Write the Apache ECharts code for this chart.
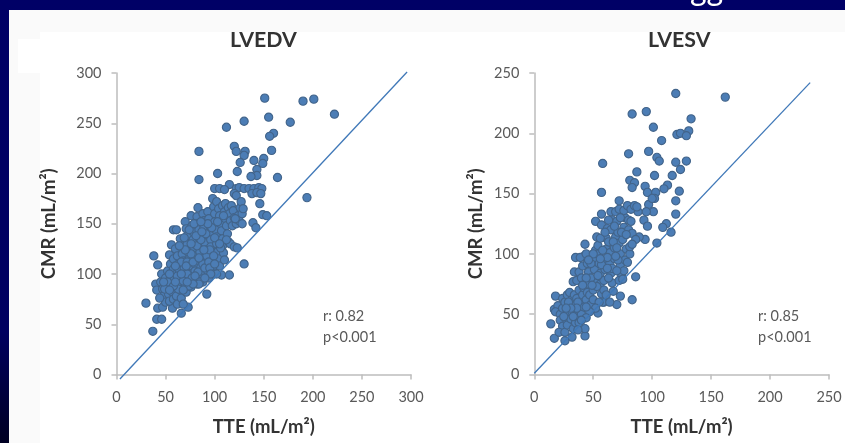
<!DOCTYPE html>
<html><head><meta charset="utf-8">
<style>html,body{margin:0;padding:0;background:#000066}#c{width:845px;height:443px;filter:blur(0.45px)}</style>
<script src="https://cdn.jsdelivr.net/npm/echarts@6/dist/echarts.min.js"></script>
</head><body><div id="c"></div>
<script>
const lvedvTitle='LVEDV', lvesvTitle='LVESV';
const xName='TTE (mL/m²)', yName='CMR (mL/m²)';
const lvedvStats='r: 0.82\np<0.001', lvesvStats='r: 0.85\np<0.001';
const clippedHeading='gg';
const lvedvLine=[[3.5,-4.5],[296,301]];
const lvesvLine=[[0,1],[234,242]];
const lvedvOutliers=[[151,275],[190,272],[201,274],[222,259],[155,256],[177,251],[130,252],[112,246],[160,240],[156,237],[158,223],[120,227],[122,222],[131,222],[130,218],[84,222],[140,213],[150,215],[126,211],[149,210],[143,204],[123,202],[103,200],[143,198],[137,197],[164,196],[84,194],[194,176],[115,189],[100,185],[105,185],[110,184],[122,185],[125,186],[130,185],[135,185],[140,185],[145,186],[148,185],[120,180],[122,178],[138,180],[143,181],[147,180],[146,170],[149,159],[153,158],[139,151],[142,146],[130,110],[107,99],[115,99],[92,80],[73,67],[66,61],[30,71],[37,43],[41,55],[46,55],[42,66],[47,67],[57,66],[38,118],[42,109]];
const lvedvCluster=[[40,90],[41,84],[45,92],[46,100],[47,85],[48,78],[50,96],[50,72],[44,76],[52,103],[52,88],[53,80],[54,73],[55,110],[55,97],[56,90],[57,82],[58,75],[54,119],[58,115],[58,105],[59,95],[60,87],[61,78],[62,70],[61,100],[56,129],[58,144],[61,144],[60,125],[62,118],[63,110],[64,103],[64,92],[65,84],[66,76],[68,70],[65,135],[67,128],[67,120],[68,113],[69,106],[69,97],[70,90],[71,82],[70,152],[71,145],[72,138],[72,130],[73,122],[74,115],[74,108],[75,100],[75,93],[76,87],[76,158],[77,148],[78,142],[78,134],[79,126],[79,118],[80,110],[80,103],[81,96],[82,90],[83,166],[82,157],[83,150],[84,144],[84,136],[85,129],[85,122],[86,115],[86,107],[87,100],[88,92],[88,160],[89,153],[89,146],[90,139],[90,131],[91,124],[91,117],[92,110],[93,103],[94,96],[93,162],[94,155],[95,148],[95,141],[96,134],[96,127],[97,120],[98,113],[98,106],[99,100],[98,175],[99,167],[100,160],[100,152],[101,144],[102,137],[102,130],[103,122],[104,115],[105,108],[102,172],[104,165],[105,158],[106,150],[107,143],[108,135],[108,128],[109,121],[110,114],[108,168],[110,162],[111,155],[112,148],[113,140],[114,132],[116,130],[111,170],[114,166],[115,160],[116,153],[118,148],[120,127],[123,126],[117,168],[119,163],[120,156],[122,150],[124,158],[126,166],[125,153],[128,160],[127,172],[129,165],[121,155],[128,150],[72,100],[77,96],[83,102],[88,110],[92,118],[95,124],[66,112],[62,98],[52,92],[49,85],[72,112],[76,120],[82,128],[86,134],[91,140],[97,146],[103,152],[109,158],[63,85],[68,93],[74,88],[80,98],[85,92],[90,106],[94,112],[99,118],[106,126],[112,134],[70,124],[76,130],[81,138],[87,142],[93,150],[100,136],[105,130],[64,128],[69,136],[74,144],[79,150],[86,152],[58,88],[54,84],[48,92],[60,108],[66,100],[71,108],[78,112],[84,116],[89,124],[95,106],[100,110],[102,100],[96,100],[90,96],[84,90],[78,90],[72,92],[68,84],[60,92],[54,100]];
const lvesvOutliers=[[120,233],[162,230],[83,216],[95,218],[133,212],[101,205],[131,202],[121,199],[124,200],[129,198],[108,194],[97,185],[80,183],[104,180],[106,177],[120,176],[129,177],[58,175],[87,168],[124,170],[102,165],[117,165],[81,161],[85,159],[83,155],[94,156],[113,157],[110,154],[96,151],[103,151],[123,152],[57,151],[102,146],[97,141],[120,144],[72,144],[120,133],[101,135],[95,135],[93,128],[96,123],[112,125],[109,122],[116,118],[104,109],[94,112],[89,114],[86,81],[83,62],[73,65],[70,58],[14,42],[17,30],[26,28],[32,31],[43,32],[43,38],[54,51],[59,60],[100,146],[85,139],[88,135]];
const lvesvCluster=[[18,65],[24,63],[17,54],[20,57],[18,52],[22,50],[24,55],[26,60],[28,66],[30,68],[22,45],[24,40],[27,46],[28,52],[30,57],[32,62],[34,66],[21,35],[26,35],[28,41],[31,46],[32,52],[34,57],[36,63],[38,70],[33,38],[35,43],[36,48],[38,54],[39,60],[41,66],[42,72],[38,43],[40,50],[42,56],[44,62],[45,68],[33,77],[34,85],[36,78],[38,85],[40,80],[41,90],[42,98],[35,97],[39,97],[43,108],[44,100],[45,92],[46,85],[46,75],[47,66],[48,58],[50,62],[50,70],[51,78],[51,87],[52,95],[52,103],[53,114],[54,107],[55,100],[55,92],[56,84],[56,75],[57,67],[58,60],[59,70],[59,78],[60,87],[60,95],[61,104],[61,113],[56,113],[52,127],[57,133],[57,124],[62,121],[63,110],[64,101],[64,92],[65,84],[66,76],[67,69],[66,88],[68,96],[68,105],[69,114],[65,120],[66,128],[65,135],[69,135],[70,127],[71,118],[72,109],[73,100],[73,91],[74,83],[72,78],[76,86],[77,95],[78,104],[75,112],[76,122],[77,130],[72,137],[76,136],[80,128],[80,120],[82,127],[79,140],[82,137],[85,140],[87,139],[83,117],[86,112],[81,100],[81,106],[79,93],[75,79],[70,86],[63,80],[55,60],[52,55],[47,52],[44,47],[48,80],[48,92],[50,100],[58,103],[62,97],[67,110],[70,105],[74,118],[60,118],[63,128],[68,123],[73,130],[44,80],[41,74],[37,60],[33,48],[29,60],[25,48],[37,37],[40,45],[54,82],[57,91],[46,95],[53,73],[61,66],[64,60],[71,95],[78,116],[83,108],[69,98],[62,88],[56,96],[49,74],[44,56],[36,55],[31,55],[27,55]];
const sym={type:'scatter',symbol:'circle',symbolSize:8.2,itemStyle:{color:'#4c7db5',borderColor:'#42648a',borderWidth:1.1,opacity:1},z:3,silent:true};
const lineS={type:'line',showSymbol:false,symbol:'none',clip:false,silent:true,lineStyle:{color:'#3f78b8',width:1.3},z:4};
const font='Lato, "Open Sans", sans-serif';
const axisGray={color:'#bdbdbd',width:1.5};
const nameStyle={color:'#333',fontFamily:font,fontWeight:'bold',fontSize:18.5};
const labelStyle={color:'#595959',fontFamily:font,fontSize:14.5};
function xAxis(i,max,step){return {gridIndex:i,type:'value',min:0,max:max,interval:step,name:xName,nameLocation:'middle',nameGap:43,
  nameTextStyle:nameStyle,
  axisLine:{onZero:false,lineStyle:axisGray},axisTick:{show:true,length:5,lineStyle:axisGray},
  axisLabel:{...labelStyle,margin:15,hideOverlap:false,showMinLabel:true,showMaxLabel:true},splitLine:{show:false}};}
function yAxis(i,max,step,gap){return {gridIndex:i,type:'value',min:0,max:max,interval:step,name:yName,nameLocation:'middle',nameGap:gap,
  nameTextStyle:nameStyle,
  axisLine:{onZero:false,show:true,lineStyle:axisGray},axisTick:{show:true,length:5,lineStyle:axisGray},
  axisLabel:{...labelStyle,margin:15},splitLine:{show:false}};}
const titleStyle={fontFamily:font,fontWeight:'bold',fontSize:21.3,fill:'#333'};
const statStyle={fontFamily:font,fontSize:14.5,fill:'#595959',lineHeight:21};
const chart=echarts.init(document.getElementById('c'));
chart.setOption({
  animation:false,
  backgroundColor:{type:'linear',x:0,y:0,x2:0,y2:1,colorStops:[{offset:0,color:'#000066'},{offset:0.75,color:'#000060'},{offset:1,color:'#000022'}]},
  grid:[{left:116.5,top:73,width:294.5,height:301.5,outerBoundsMode:'none'},{left:534.3,top:73,width:294.7,height:301.5,outerBoundsMode:'none'}],
  xAxis:[xAxis(0,300,50),xAxis(1,250,50)],
  yAxis:[yAxis(0,300,50,58),yAxis(1,250,50,49)],
  series:[
    {...sym,xAxisIndex:0,yAxisIndex:0,data:lvedvOutliers.concat(lvedvCluster)},
    {...lineS,xAxisIndex:0,yAxisIndex:0,data:lvedvLine},
    {...sym,xAxisIndex:1,yAxisIndex:1,data:lvesvOutliers.concat(lvesvCluster)},
    {...lineS,xAxisIndex:1,yAxisIndex:1,data:lvesvLine}
  ],
  graphic:[
    {type:'rect',z:-10,silent:true,shape:{x:9,y:10,width:836,height:433},style:{fill:'#fafafa'}},
    {type:'rect',z:-9,silent:true,shape:{x:40,y:32,width:805,height:411},style:{fill:'#ffffff'}},
    {type:'rect',z:-9,silent:true,shape:{x:18,y:39,width:30,height:34},style:{fill:'#ffffff'}},
    {type:'text',z:5,silent:true,x:690,y:-26,style:{text:clippedHeading,fontFamily:font,fontSize:32,fill:'#ffffff'}},
    {type:'text',z:5,silent:true,left:230,top:30,style:{...titleStyle,text:lvedvTitle}},
    {type:'text',z:5,silent:true,left:648,top:30,style:{...titleStyle,text:lvesvTitle}},
    {type:'text',z:5,silent:true,left:323,top:306,style:{...statStyle,text:lvedvStats}},
    {type:'text',z:5,silent:true,left:758,top:306,style:{...statStyle,text:lvesvStats}}
  ]
});
</script></body></html>
